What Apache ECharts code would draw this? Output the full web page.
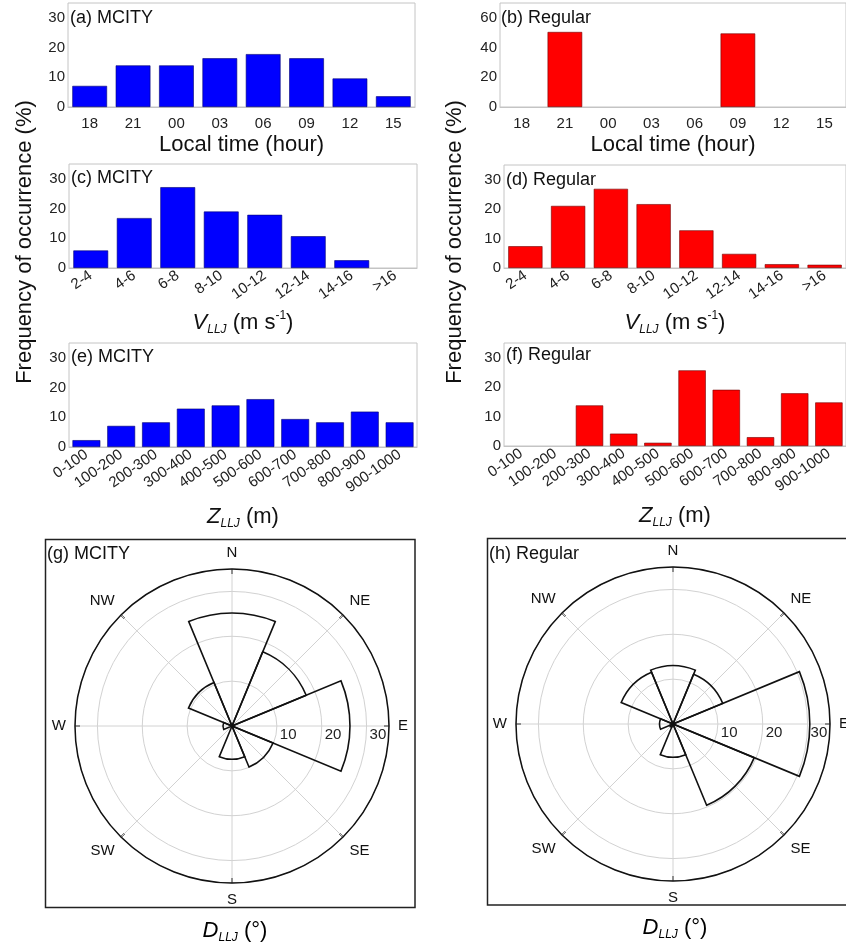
<!DOCTYPE html>
<html>
<head>
<meta charset="utf-8">
<script src="https://cdn.jsdelivr.net/npm/echarts@6/dist/echarts.min.js"></script>
<style>html,body{margin:0;padding:0;background:#fff;}#c{width:846px;height:949px;}</style>
</head>
<body>
<div id="c"></div>
<script>
// ---------- data ----------
const hours = ['18', '21', '00', '03', '06', '09', '12', '15'];
const mcityHour = [7.1, 14.0, 14.0, 16.4, 17.8, 16.4, 9.6, 3.6];
const regularHour = [0, 50.5, 0, 0, 0, 49.5, 0, 0];

const speedBins = ['2-4', '4-6', '6-8', '8-10', '10-12', '12-14', '14-16', '>16'];
const mcitySpeed = [5.9, 16.8, 27.2, 19.0, 17.9, 10.7, 2.6, 0];
const regularSpeed = [7.4, 21.1, 26.9, 21.7, 12.8, 4.8, 1.3, 1.1];

const heightBins = ['0-100', '100-200', '200-300', '300-400', '400-500', '500-600', '600-700', '700-800', '800-900', '900-1000'];
const mcityHeight = [2.3, 7.1, 8.3, 12.9, 14.0, 16.1, 9.4, 8.3, 11.9, 8.3];
const regularHeight = [0, 0, 13.8, 4.2, 1.1, 25.7, 19.1, 3.0, 17.9, 14.8];

const directions = ['N', 'NE', 'E', 'SE', 'S', 'SW', 'W', 'NW'];
const mcityDir = [25.2, 17.9, 26.3, 9.9, 7.4, 0, 2.0, 10.5];
const regularDir = [13.0, 12.0, 30.5, 19.6, 7.4, 0.8, 3.0, 12.5];

const radiusTicks = [10, 20, 30];
const compass = {0: 'E', 45: 'NE', 90: 'N', 135: 'NW', 180: 'W', 225: 'SW', 270: 'S', 315: 'SE'};

// ---------- style ----------
const FONT = '"Liberation Sans", Arial, sans-serif';
const BLUE = '#0000ff', RED = '#ff0000';
const chart = echarts.init(document.getElementById('c'), null, {renderer: 'canvas'});

const grids = [
  {left: 68, top: 3, width: 347, height: 104},
  {left: 500, top: 3, width: 347, height: 104},
  {left: 69, top: 164, width: 348, height: 104},
  {left: 504, top: 165, width: 347, height: 103},
  {left: 69, top: 343, width: 348, height: 104},
  {left: 504, top: 343, width: 347, height: 103}
].map(g => Object.assign({show: true, borderColor: '#c4c4c4', borderWidth: 1, backgroundColor: 'transparent'}, g));

const richName = {
  n: {fontSize: 22, fontFamily: FONT, color: '#111', lineHeight: 26, verticalAlign: 'middle'},
  i: {fontSize: 22, fontFamily: FONT, color: '#111', fontStyle: 'italic', lineHeight: 26, verticalAlign: 'middle'},
  sub: {fontSize: 12, fontFamily: FONT, color: '#111', fontStyle: 'italic', lineHeight: 12, verticalAlign: 'bottom'},
  sup: {fontSize: 12, fontFamily: FONT, color: '#111', lineHeight: 14, verticalAlign: 'top'}
};

function xAx(idx, cats, name, gap, rotate) {
  return {
    type: 'category', gridIndex: idx, data: cats,
    axisLine: {lineStyle: {color: '#c4c4c4'}},
    axisTick: {show: false},
    axisLabel: {fontSize: 15, fontFamily: FONT, color: '#222', rotate: rotate || 0, margin: rotate ? 6 : 9, interval: 0},
    name: name, nameLocation: 'middle', nameGap: gap,
    nameTextStyle: {fontSize: 22, fontFamily: FONT, color: '#111', rich: richName}
  };
}
function yAx(idx, max, interval) {
  return {
    type: 'value', gridIndex: idx, min: 0, max: max, interval: interval,
    axisLine: {show: false}, axisTick: {show: false}, splitLine: {show: false},
    axisLabel: {fontSize: 15, fontFamily: FONT, color: '#222', margin: 3, showMaxLabel: false}
  };
}
function barS(idx, data, color) {
  return {
    type: 'bar', xAxisIndex: idx, yAxisIndex: idx,
    data: data.map(v => (v === 0 ? null : v)), barWidth: '80%',
    itemStyle: {color: color, borderColor: color === BLUE ? '#000070' : '#700000', borderWidth: 0.6},
    silent: true
  };
}

const vName = '{i|V}{sub|LLJ}{n| (m s}{sup|-1}{n|)}';
const zName = '{i|Z}{sub|LLJ}{n| (m)}';
const dName = '{i|D}{sub|LLJ}{n| (°)}';

const option = {
  animation: false,
  backgroundColor: '#fff',
  textStyle: {fontFamily: FONT},
  title: [
    {text: '(a) MCITY', left: 70, top: 9},
    {text: '(b) Regular', left: 501, top: 9},
    {text: '(c) MCITY', left: 71, top: 169},
    {text: '(d) Regular', left: 506, top: 171},
    {text: '(e) MCITY', left: 71, top: 348},
    {text: '(f) Regular', left: 506, top: 346},
    {text: '(g) MCITY', left: 47, top: 545},
    {text: '(h) Regular', left: 489, top: 545}
  ].map(t => Object.assign({textStyle: {fontSize: 18, fontWeight: 'normal', fontFamily: FONT, color: '#111'}, padding: 0}, t)),
  grid: grids,
  xAxis: [
    xAx(0, hours, 'Local time (hour)', 27, 0),
    xAx(1, hours, 'Local time (hour)', 27, 0),
    xAx(2, speedBins, vName, 42, 35),
    xAx(3, speedBins, vName, 42, 35),
    xAx(4, heightBins, zName, 57, 35),
    xAx(5, heightBins, zName, 57, 35)
  ],
  yAxis: [
    yAx(0, 35, 10), yAx(1, 70, 20), yAx(2, 35, 10), yAx(3, 35, 10), yAx(4, 35, 10), yAx(5, 35, 10)
  ],
  polar: [
    {center: [232, 726], radius: 157}, {center: [232, 726], radius: 157},
    {center: [673, 724], radius: 157}, {center: [673, 724], radius: 157}
  ],
  angleAxis: [0, 1, 2, 3].map(p => (p % 2 === 0 ? {
    polarIndex: p, type: 'value', min: 0, max: 360, interval: 45, startAngle: 0, clockwise: false,
    axisLine: {lineStyle: {color: '#111', width: 1.5}},
    axisTick: {show: true, inside: true, length: 5, lineStyle: {color: '#111', width: 1.5}},
    splitLine: {show: true, lineStyle: {color: '#d2d2d2', width: 1}},
    axisLabel: {margin: 9, fontSize: 15, fontFamily: FONT, color: '#111',
      formatter: v => (v === 360 ? '' : (compass[v] || ''))}
  } : {
    polarIndex: p, type: 'category', data: directions, startAngle: 112.5, clockwise: true,
    axisLine: {show: false}, axisTick: {show: false}, axisLabel: {show: false}, splitLine: {show: false}
  })),
  radiusAxis: [0, 1, 2, 3].map(p => (p % 2 === 0 ? {
    polarIndex: p, type: 'value', min: 0, max: 35, interval: 10,
    axisLine: {show: false}, axisTick: {show: false},
    splitLine: {show: true, lineStyle: {color: '#d2d2d2', width: 1}},
    axisLabel: {show: true, fontSize: 15, fontFamily: FONT, color: '#222', margin: 4,
      align: 'left', verticalAlign: 'top', padding: [5, 0, 0, 3],
      formatter: v => (radiusTicks.indexOf(v) >= 0 ? String(v) : '')}
  } : {
    polarIndex: p, type: 'value', min: 0, max: 35,
    axisLine: {show: false}, axisTick: {show: false}, axisLabel: {show: false}, splitLine: {show: false}
  })),
  series: [
    barS(0, mcityHour, BLUE), barS(1, regularHour, RED),
    barS(2, mcitySpeed, BLUE), barS(3, regularSpeed, RED),
    barS(4, mcityHeight, BLUE), barS(5, regularHeight, RED),
    {type: 'bar', coordinateSystem: 'polar', polarIndex: 1, data: mcityDir, barCategoryGap: '0%', z: 5,
      itemStyle: {color: 'rgba(255,255,255,0)', borderColor: '#111', borderWidth: 1.6}, silent: true},
    {type: 'bar', coordinateSystem: 'polar', polarIndex: 3, data: regularDir, barCategoryGap: '0%', z: 5,
      itemStyle: {color: 'rgba(255,255,255,0)', borderColor: '#111', borderWidth: 1.6}, silent: true}
  ],
  graphic: [
    {type: 'rect', shape: {x: 45.5, y: 539.5, width: 369.5, height: 368}, style: {fill: 'none', stroke: '#222', lineWidth: 1.5}, z: 1},
    {type: 'rect', shape: {x: 487.5, y: 538.5, width: 370, height: 366.5}, style: {fill: 'none', stroke: '#222', lineWidth: 1.5}, z: 1},
    {type: 'text', x: 25, y: 242, rotation: Math.PI / 2,
      style: {text: 'Frequency of occurrence (%)', font: '22px ' + FONT, fill: '#111', align: 'center', verticalAlign: 'middle'}},
    {type: 'text', x: 455, y: 242, rotation: Math.PI / 2,
      style: {text: 'Frequency of occurrence (%)', font: '22px ' + FONT, fill: '#111', align: 'center', verticalAlign: 'middle'}},
    {type: 'text', x: 235, y: 931,
      style: {text: dName, align: 'center', verticalAlign: 'middle', rich: richName}},
    {type: 'text', x: 675, y: 928,
      style: {text: dName, align: 'center', verticalAlign: 'middle', rich: richName}}
  ]
};
chart.setOption(option);
</script>
</body>
</html>
